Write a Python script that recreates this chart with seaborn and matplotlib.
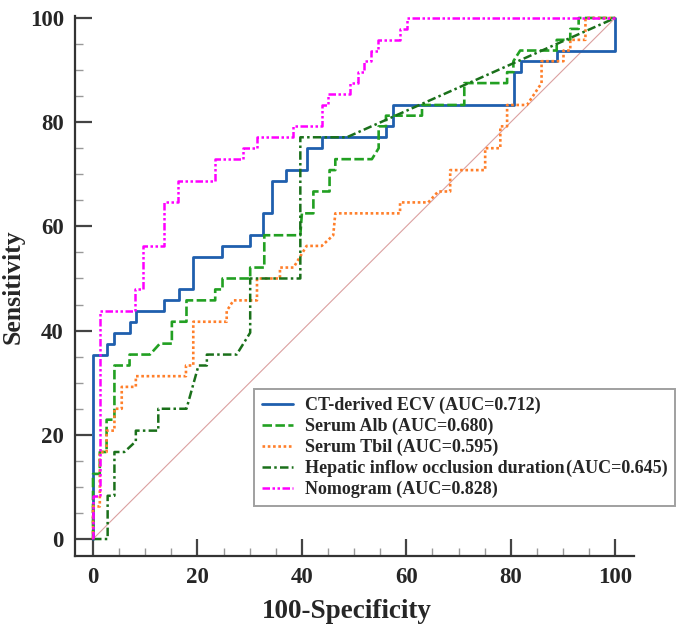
import matplotlib
matplotlib.use("Agg")
import matplotlib.pyplot as plt
import seaborn as sns
import pandas as pd
from matplotlib.ticker import MultipleLocator

sns.set_theme(style="white")
plt.rcParams['font.family'] = ['Liberation Serif', 'DejaVu Serif']
plt.rcParams['font.weight'] = 'bold'

# ---- data: ROC curve vertices (100-Specificity, Sensitivity) ----
ecv_x = [0, 0, 2.6, 2.6, 4.1, 4.1, 7.0, 7.0, 8.2, 8.2, 13.6, 13.6, 16.5, 16.5, 19.1, 19.1,
         24.7, 24.7, 30.1, 30.1, 32.6, 32.6, 34.2, 34.2, 37.0, 37.0, 40.9, 40.9, 43.8, 43.8,
         56.1, 56.1, 57.4, 57.4, 80.7, 80.7, 82.0, 82.0, 88.8, 88.8, 100, 100]
ecv_y = [0, 35.4, 35.4, 37.5, 37.5, 39.6, 39.6, 41.7, 41.7, 43.75, 43.75, 45.8, 45.8, 47.9, 47.9, 54.2,
         54.2, 56.25, 56.25, 58.3, 58.3, 62.5, 62.5, 68.75, 68.75, 70.8, 70.8, 75.0, 75.0, 77.1,
         77.1, 79.2, 79.2, 83.3, 83.3, 89.6, 89.6, 91.7, 91.7, 93.75, 93.75, 100]

alb_x = [0, 0, 1.3, 1.3, 2.6, 2.6, 4.1, 4.1, 7.0, 7.0, 10.9, 12.8, 15.1, 15.1, 17.9, 17.9,
         23.4, 23.4, 24.8, 24.8, 30.1, 30.1, 32.8, 32.8, 39.7, 40.0, 42.2, 42.2, 45.3, 45.3,
         46.4, 46.4, 53.4, 54.7, 54.7, 56.1, 56.1, 63.0, 63.0, 71.1, 71.1, 79.3, 79.3, 80.5,
         80.5, 81.8, 88.8, 88.8, 91.4, 91.4, 93.0, 93.0, 100]
alb_y = [0, 12.5, 12.5, 16.7, 16.7, 22.9, 22.9, 33.3, 33.3, 35.4, 35.4, 37.5, 37.5, 41.7, 41.7, 45.8,
         45.8, 47.9, 47.9, 50.0, 50.0, 52.1, 52.1, 58.3, 58.3, 62.5, 62.5, 66.7, 66.7, 70.8,
         70.8, 72.9, 72.9, 75.0, 79.2, 79.2, 81.25, 81.25, 83.3, 83.3, 87.5, 87.5, 89.6, 89.6,
         91.7, 93.75, 93.75, 95.8, 95.8, 97.9, 97.9, 100, 100]

tbil_x = [0, 0, 1.3, 1.3, 2.6, 2.6, 4.1, 4.1, 5.5, 5.5, 8.2, 8.2, 17.8, 17.8, 19.2, 19.2,
          25.6, 25.6, 26.9, 31.4, 31.4, 35.8, 35.8, 38.4, 40.9, 43.8, 46.0, 46.4, 58.8, 58.8,
          64.2, 66.1, 68.4, 68.4, 75.1, 75.1, 78.0, 78.0, 79.3, 79.3, 83.1, 85.9, 85.9, 90.1,
          90.1, 91.4, 91.4, 94.3, 94.3, 100]
tbil_y = [0, 6.25, 6.25, 16.7, 16.7, 20.8, 20.8, 25.0, 25.0, 29.2, 29.2, 31.25, 31.25, 33.3, 33.3, 41.7,
          41.7, 43.75, 45.8, 45.8, 50.0, 50.0, 52.1, 52.1, 56.25, 56.25, 58.3, 62.5, 62.5, 64.6,
          64.6, 66.7, 66.7, 70.8, 70.8, 75.0, 75.0, 79.2, 79.2, 83.3, 83.3, 87.5, 91.7, 91.7,
          93.75, 93.75, 95.8, 95.8, 100, 100]

hep_x = [0, 2.8, 2.8, 4.1, 4.1, 6.0, 8.2, 8.2, 12.5, 12.5, 17.9, 20.2, 21.8, 21.8, 27.5, 30.1,
         30.1, 39.7, 39.7, 48.6, 100]
hep_y = [0, 0, 8.3, 8.3, 16.7, 16.7, 18.75, 20.8, 20.8, 25.0, 25.0, 33.3, 33.3, 35.4, 35.4, 39.6,
         50.0, 50.0, 77.1, 77.1, 100]

nomo_x = [0, 0, 1.3, 1.3, 8.0, 8.0, 9.6, 9.6, 13.6, 13.6, 16.3, 16.3, 23.4, 23.4, 28.7, 28.7,
          31.4, 31.4, 38.3, 38.3, 43.8, 43.8, 45.0, 45.0, 49.2, 49.2, 50.7, 50.7, 51.9, 51.9,
          53.3, 53.3, 54.6, 54.6, 58.8, 58.8, 60.1, 60.1, 100]
nomo_y = [0, 8.3, 8.3, 43.75, 43.75, 47.9, 47.9, 56.25, 56.25, 64.6, 64.6, 68.75, 68.75, 72.9, 72.9, 75.0,
          75.0, 77.1, 77.1, 79.2, 79.2, 83.3, 83.3, 85.4, 85.4, 87.5, 87.5, 89.6, 89.6, 91.7,
          91.7, 93.75, 93.75, 95.8, 95.8, 97.9, 97.9, 100, 100]

labels = ["CT-derived ECV (AUC=0.712)",
          "Serum Alb (AUC=0.680)",
          "Serum Tbil (AUC=0.595)",
          "Hepatic inflow occlusion duration\u200a(AUC=0.645)",
          "Nomogram (AUC=0.828)"]
series = [(ecv_x, ecv_y), (alb_x, alb_y), (tbil_x, tbil_y), (hep_x, hep_y), (nomo_x, nomo_y)]

colors = ["#1f5fae", "#22a022", "#ff7f2a", "#1a701a", "#ff00ff"]
styles = ["-", (0, (3.6, 1.3)), (0, (1, 1)), (0, (3.4, 1.3, 1, 1.3)), (0, (3, 1, 1, 1, 1, 1))]
widths = [2.0, 1.9, 1.9, 1.8, 1.8]

fig = plt.figure(figsize=(6.85, 6.30), dpi=100)
ax = fig.add_axes([75 / 685, 1 - 556 / 630, 559 / 685, (556 - 16.4) / 630])

# reference diagonal
ax.plot([0, 100], [0, 100], color="#dba0a0", lw=0.8, zorder=1)

for (xs, ys), lab, c, ls, lw in zip(series, labels, colors, styles, widths):
    df = pd.DataFrame({"x": xs, "y": ys})
    sns.lineplot(data=df, x="x", y="y", sort=False, estimator=None, ax=ax,
                 color=c, linestyle=ls, lw=lw, label=lab, zorder=3)

ax.set_xlim(-3.45, 103.6)
ax.set_ylim(-3.26, 100.3)
for s in ["top", "right"]:
    ax.spines[s].set_visible(False)
for s in ["left", "bottom"]:
    ax.spines[s].set_color("#333333")
    ax.spines[s].set_linewidth(1.6)

ax.xaxis.set_major_locator(MultipleLocator(20))
ax.xaxis.set_minor_locator(MultipleLocator(5))
ax.yaxis.set_major_locator(MultipleLocator(20))
ax.yaxis.set_minor_locator(MultipleLocator(5))
ax.tick_params(which="major", direction="in", length=12.5, width=1.6, color="#444444",
               labelsize=16.5, pad=8, left=True, bottom=True)
ax.tick_params(which="minor", direction="in", length=6, width=1.0, color="#999999",
               left=True, bottom=True)
for t in ax.get_xticklabels() + ax.get_yticklabels():
    t.set_fontweight("bold")

ax.set_xlabel("100-Specificity", fontsize=19.5, fontweight="bold")
ax.set_ylabel("Sensitivity", fontsize=18.5, fontweight="bold", labelpad=4)
ax.xaxis.set_label_coords((347 - 75) / 559, -(612 - 556) / 539.6, transform=ax.transAxes)
ax.xaxis.label.set_va("center")
ax.grid(False)

h, l = ax.get_legend_handles_labels()
leg = ax.legend(h, l, loc="upper left", bbox_to_anchor=(254 / 685, 1 - 389 / 630),
                bbox_transform=fig.transFigure, frameon=True, fancybox=False,
                prop={"family": "Liberation Serif", "weight": "bold", "size": 13},
                handlelength=1.7, handletextpad=0.65, labelspacing=0.2,
                borderpad=0.45, borderaxespad=0)
leg.get_frame().set_edgecolor("#888888")
leg.get_frame().set_linewidth(1.4)

fig.savefig("out.png", dpi=100)
